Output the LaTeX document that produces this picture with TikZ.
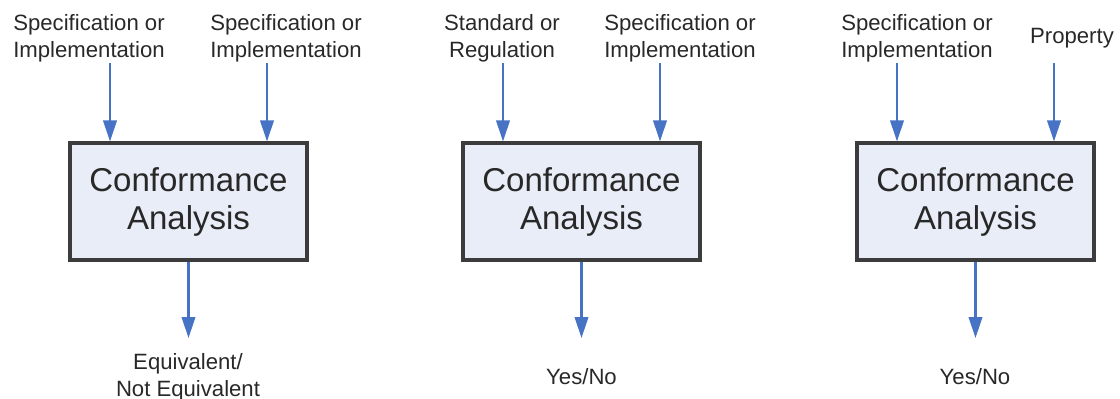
\documentclass[tikz,border=0pt]{standalone}
\usepackage{fontspec}
\setmainfont{Liberation Sans}
\usetikzlibrary{arrows.meta}
\definecolor{flowblue}{RGB}{70,115,195}
\definecolor{boxfill}{RGB}{233,237,247}
\definecolor{boxline}{RGB}{60,60,60}
\definecolor{txtgray}{RGB}{40,40,40}
\tikzset{
    cabox/.style={draw=boxline, line width=1.8pt, fill=boxfill, minimum width=4.74cm, minimum height=2.34cm,
        align=center, inner sep=0pt, text=txtgray, font=\fontsize{18.8}{21.6}\selectfont},
    lbl/.style={align=center, inner sep=0pt, text=txtgray, font=\fontsize{12.6}{15.4}\selectfont},
    flow/.style={draw=flowblue, line width=1.3pt, -{Triangle[width=0.27cm,length=0.42cm]}}
}
\begin{document}
\begin{tikzpicture}[x=0.02cm, y=-0.02cm]
                \useasboundingbox (0,0) rectangle (1120,399);
                % three analysis boxes with their arrows
                \foreach \n/\x in {1/70,2/463,3/857}
                    {
                        \node[cabox] (ca\n) at (\x+118.5,201.5) {Conformance\\Analysis};
                        \coordinate (inl\n) at (\x+40,63);
                        \coordinate (inr\n) at (\x+197,63);
                        \coordinate (out\n) at (\x+118.5,338);
                        \draw[flow] (inl\n) -- (inl\n |- ca\n.north);
                        \draw[flow] (inr\n) -- (inr\n |- ca\n.north);
                        \draw[flow] (ca\n.south) -- (out\n);
                    }
                % inputs
                \node[lbl] (spec1) at (89,38) {Specification or\\Implementation};
                \node[lbl] (spec2) at (286,38) {Specification or\\Implementation};
                \node[lbl] (std) at (502,38) {Standard or\\Regulation};
                \node[lbl] (spec3) at (680,38) {Specification or\\Implementation};
                \node[lbl] (spec4) at (917,38) {Specification or\\Implementation};
                \node[lbl] (prop) at (1072,38) {Property};
                % outputs
                \node[lbl] (equiv) at (188,377) {Equivalent/\\Not Equivalent};
                \node[lbl] (yn2) at (581.5,377) {Yes/No};
                \node[lbl] (yn3) at (975,377) {Yes/No};
            \end{tikzpicture}
\end{document}
